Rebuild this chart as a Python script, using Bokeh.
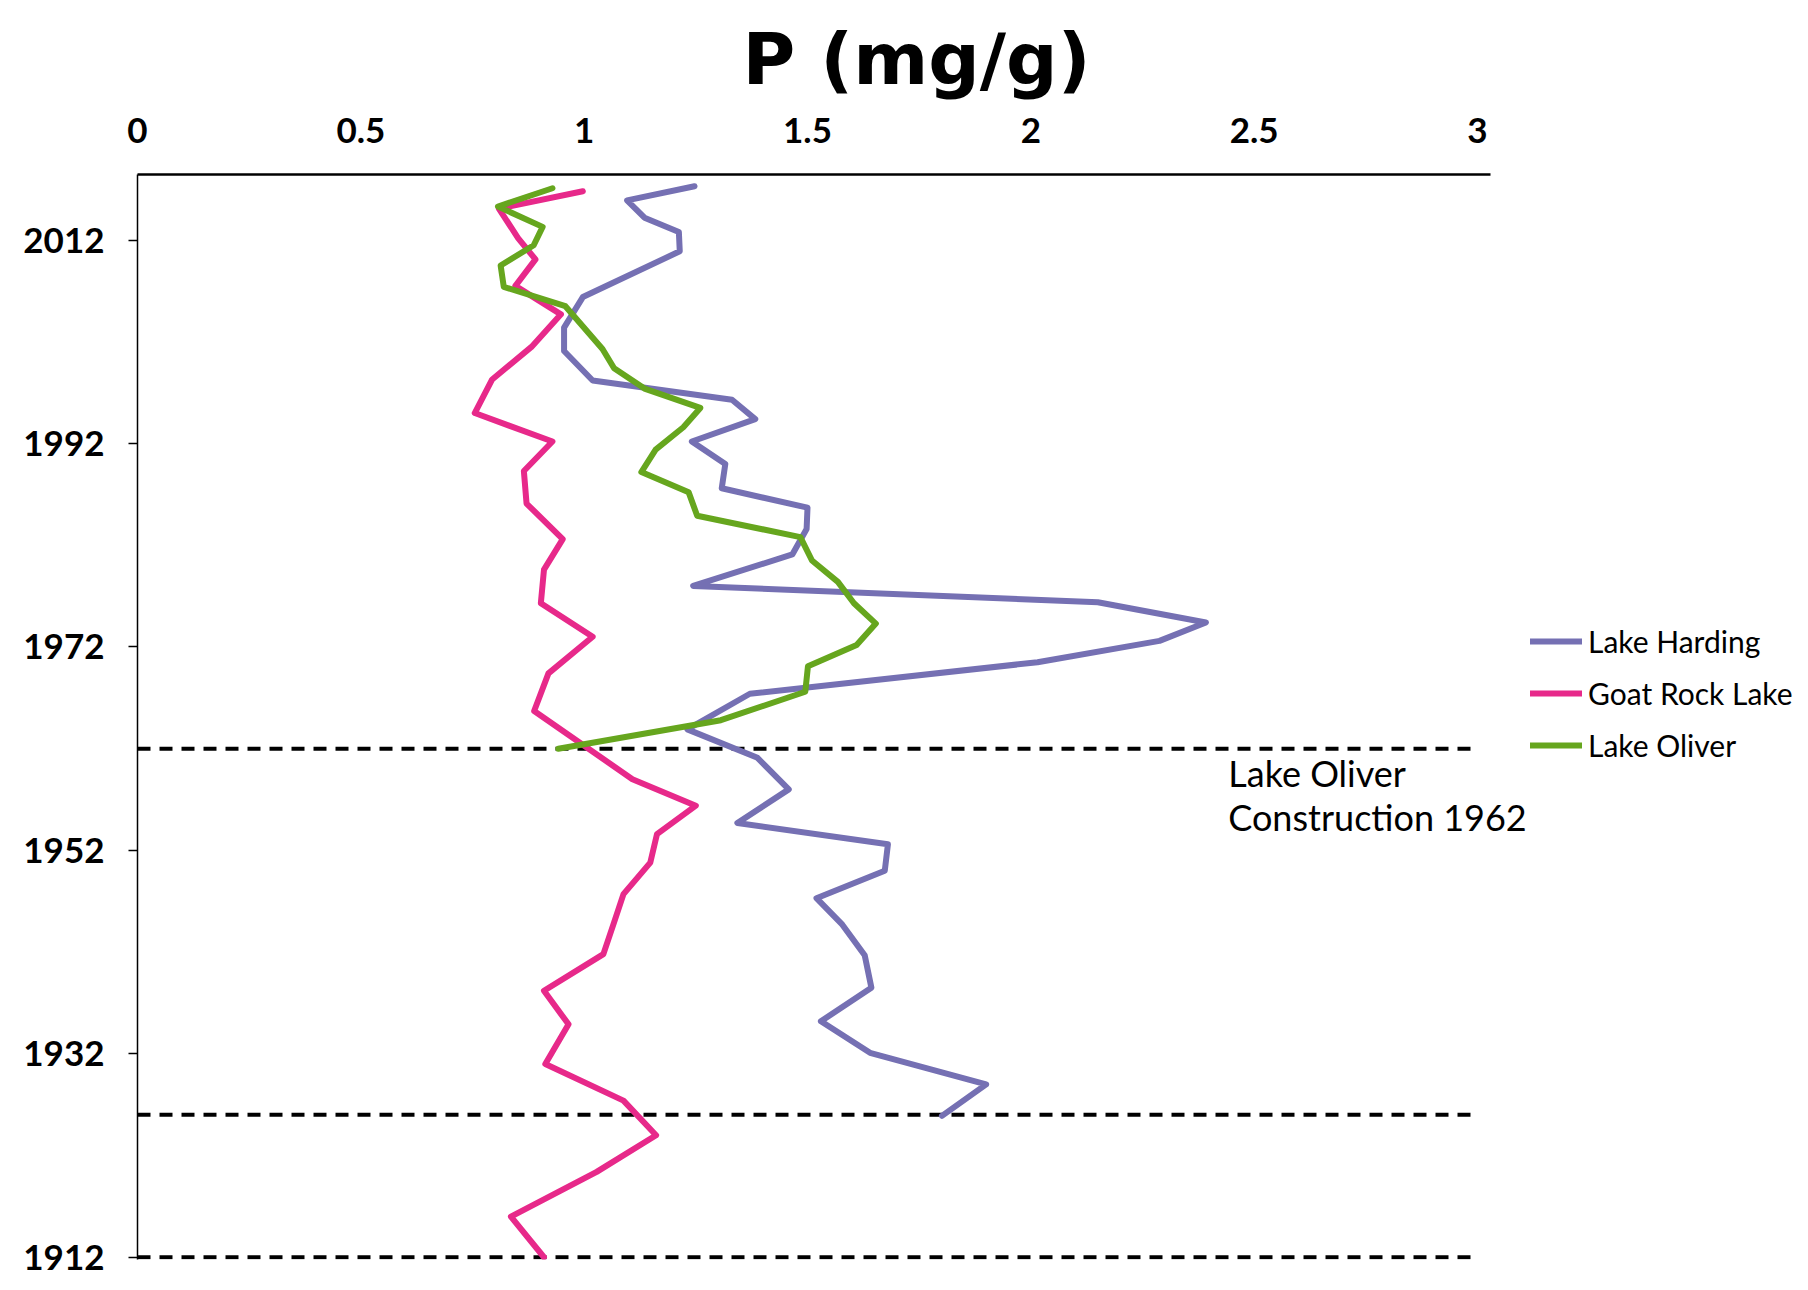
from bokeh.plotting import figure
from bokeh.models import FixedTicker, Legend, LegendItem, Label, Range1d
from bokeh.embed import file_html
from bokeh.resources import INLINE

# ---- data ----
harding_year = [2017.3, 2015.9, 2014.2, 2012.8, 2010.9, 2006.4, 2003.4, 2001.1, 1998.2, 1996.3,
                1994.4, 1992.2, 1990.0, 1987.6, 1985.7, 1983.6, 1981.1, 1978.0, 1976.4, 1974.4,
                1972.6, 1970.5, 1967.4, 1963.9, 1961.1, 1958.0, 1954.7, 1952.6, 1950.0, 1947.3,
                1944.7, 1941.7, 1938.5, 1935.2, 1932.1, 1929.0, 1925.9]
harding_p = [1.247, 1.096, 1.135, 1.212, 1.214, 0.997, 0.955, 0.955, 1.019, 1.331,
             1.383, 1.241, 1.316, 1.308, 1.500, 1.498, 1.466, 1.244, 2.150, 2.392,
             2.288, 2.015, 1.371, 1.231, 1.388, 1.458, 1.343, 1.680, 1.673, 1.520,
             1.578, 1.628, 1.643, 1.530, 1.640, 1.900, 1.801]

goat_year = [2016.8, 2015.1, 2012.2, 2010.1, 2007.5, 2004.7, 2001.5, 1998.3, 1995.0, 1992.2,
             1989.3, 1986.1, 1982.6, 1979.6, 1976.3, 1973.0, 1969.4, 1965.7, 1959.0, 1956.4,
             1953.6, 1950.8, 1947.7, 1944.8, 1941.8, 1938.2, 1934.9, 1931.0, 1927.4, 1924.0,
             1920.4, 1916.0, 1912.0]
goat_p = [0.997, 0.809, 0.852, 0.891, 0.846, 0.948, 0.882, 0.794, 0.755, 0.929,
          0.865, 0.871, 0.952, 0.910, 0.903, 1.019, 0.920, 0.888, 1.108, 1.250,
          1.163, 1.148, 1.088, 1.066, 1.043, 0.910, 0.965, 0.913, 1.088, 1.161,
          1.028, 0.836, 0.910]

oliver_year = [2017.1, 2015.3, 2013.3, 2011.5, 2009.5, 2007.4, 2005.5, 2001.3, 1999.4, 1997.4,
               1995.5, 1993.6, 1991.4, 1989.2, 1987.2, 1984.9, 1982.8, 1980.5, 1978.4, 1976.3,
               1974.3, 1972.2, 1970.1, 1967.6, 1964.8, 1962.0]
oliver_p = [0.929, 0.807, 0.907, 0.887, 0.813, 0.820, 0.958, 1.041, 1.067, 1.135,
            1.260, 1.222, 1.160, 1.128, 1.234, 1.253, 1.484, 1.510, 1.568, 1.604,
            1.653, 1.610, 1.501, 1.495, 1.306, 0.942]

series_names = ["Lake Harding", "Goat Rock Lake", "Lake Oliver"]
series_colors = ["#7570b3", "#e7298a", "#66a61e"]

x_ticks = [0, 0.5, 1, 1.5, 2, 2.5, 3]
x_tick_labels = ["0", "0.5", "1", "1.5", "2", "2.5", "3"]
y_ticks = [1912, 1932, 1952, 1972, 1992, 2012]

ref_years = [1962, 1926, 1912]
ref_x_start = [0, 0, 0]
ref_x_end = [3, 3, 3]

note_lines = ["Lake Oliver", "Construction 1962"]
note_x = 2.442
note_years = [1959.6, 1955.3]

FONT = "Lato"

p = figure(width=1808, height=1290, output_backend="svg", toolbar_location=None,
           x_axis_location="above",
           x_range=Range1d(0, 3.741), y_range=Range1d(1911.78, 2018.45),
           min_border_left=137, min_border_right=0, min_border_top=173,
           min_border_bottom=31)
p.outline_line_color = None
p.xgrid.visible = False
p.ygrid.visible = False
p.background_fill_color = "white"
p.border_fill_color = "white"

# title
p.title.text = "P (mg/g)"
p.title.text_font = "DejaVu Sans"
p.title.text_font_style = "bold"
p.title.text_font_size = "72px"
p.title.align = "left"
p.title.vertical_align = "bottom"
p.title.offset = 605
p.title.standoff = 28
p.title.text_color = "black"

# x axis (top)
xa = p.xaxis[0]
xa.ticker = FixedTicker(ticks=x_ticks)
xa.bounds = (0, 3.03)
xa.major_label_overrides = {t: s for t, s in zip(x_ticks, x_tick_labels)}
xa.major_tick_out = 0
xa.major_tick_in = 0
xa.minor_tick_out = 0
xa.minor_tick_in = 0
xa.axis_line_width = 2.5
xa.axis_line_color = "black"
xa.major_label_text_font = FONT
xa.major_label_text_font_style = "bold"
xa.major_label_text_font_size = "35px"
xa.major_label_text_color = "black"
xa.major_label_standoff = 32

# y axis
ya = p.yaxis[0]
ya.ticker = FixedTicker(ticks=y_ticks)
ya.major_tick_out = 9
ya.major_tick_in = 0
ya.minor_tick_out = 0
ya.minor_tick_in = 0
ya.axis_line_width = 1.5
ya.major_tick_line_width = 1.5
ya.axis_line_color = "black"
ya.major_tick_line_color = "black"
ya.major_label_text_font = FONT
ya.major_label_text_font_style = "bold"
ya.major_label_text_font_size = "35px"
ya.major_label_text_color = "black"
ya.major_label_standoff = 24

# reference dashed lines
p.segment(x0=ref_x_start, y0=ref_years, x1=ref_x_end, y1=ref_years,
          line_color="black", line_width=4, line_dash="13 9")

# series
renderers = []
for xs, ys, c in [(harding_p, harding_year, series_colors[0]),
                  (goat_p, goat_year, series_colors[1]),
                  (oliver_p, oliver_year, series_colors[2])]:
    r = p.line(xs, ys, line_color=c, line_width=6, line_cap="round", line_join="round")
    renderers.append(r)

legend = Legend(items=[LegendItem(label=n, renderers=[r]) for n, r in zip(series_names, renderers)],
                location=(1393, 496), orientation="vertical",
                border_line_alpha=0, background_fill_alpha=0,
                padding=0, margin=0, spacing=16,
                glyph_width=52, glyph_height=36, label_height=36, label_standoff=6,
                label_text_font=FONT, label_text_font_size="30px", label_text_color="black")
p.add_layout(legend)

for txt, yy in zip(note_lines, note_years):
    p.add_layout(Label(x=note_x, y=yy, text=txt, text_font=FONT, text_font_size="36px",
                       text_color="black", text_baseline="middle", text_align="left"))

open("out.html", "w").write(file_html(p, INLINE))
